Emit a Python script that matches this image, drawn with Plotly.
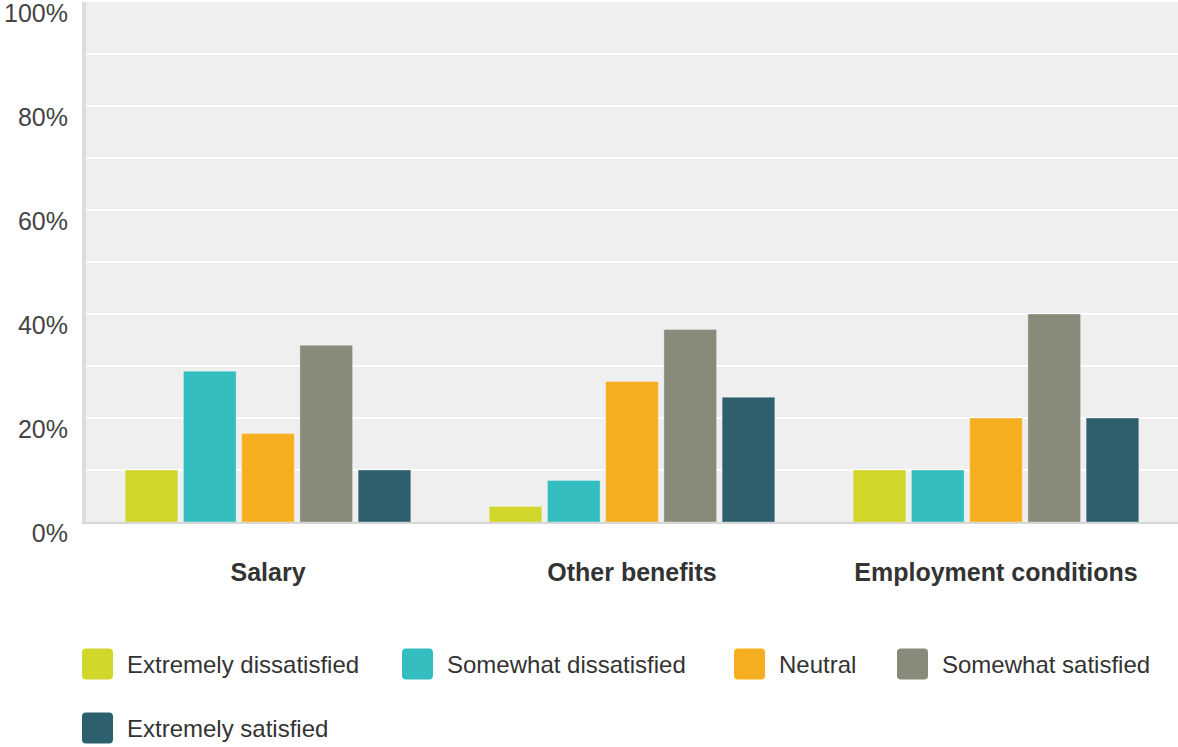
import plotly.graph_objects as go

categories = ["Salary", "Other benefits", "Employment conditions"]
series_names = ["Extremely dissatisfied", "Somewhat dissatisfied", "Neutral",
                "Somewhat satisfied", "Extremely satisfied"]
extremely_dissatisfied = [10, 3, 10]
somewhat_dissatisfied = [29, 8, 10]
neutral = [17, 27, 20]
somewhat_satisfied = [34, 37, 40]
extremely_satisfied = [10, 24, 20]
values = [extremely_dissatisfied, somewhat_dissatisfied, neutral,
          somewhat_satisfied, extremely_satisfied]
colors = ["#d0d62a", "#33bdbf", "#f5ae1f", "#888a7a", "#2e5f6c"]
y_ticks = [0, 20, 40, 60, 80, 100]
y_ticktext = [f"{v}%" for v in y_ticks]

W, H = 1178, 747
ML, MR, MT, MB = 86, 0, 2, 225
PW = W - ML - MR
PH = H - MT - MB

fig = go.Figure()
for name, vals, col in zip(series_names, values, colors):
    fig.add_trace(go.Bar(
        x=categories, y=vals, name=name,
        marker=dict(color=col, line=dict(color="rgba(255,255,255,0.35)", width=1)),
        showlegend=False, hoverinfo="x+y+name",
    ))

# manual legend (large rounded swatches)
def px_to_paper(px, py):
    return (px - ML) / PW, (H - MB - py) / PH

legend_pos = [(82, 664), (402, 664), (734, 664), (897, 664), (82, 728)]
shapes = []
annotations = []
sw = 31
r = 4
for (sx, sy), name, col in zip(legend_pos, series_names, colors):
    x0, y0 = sx, sy - sw / 2
    x1, y1 = sx + sw, sy + sw / 2
    def P(px, py):
        a, b = px_to_paper(px, py)
        return f"{a:.5f},{b:.5f}"
    path = (f"M{P(x0 + r, y0)} L{P(x1 - r, y0)} Q{P(x1, y0)} {P(x1, y0 + r)} "
            f"L{P(x1, y1 - r)} Q{P(x1, y1)} {P(x1 - r, y1)} "
            f"L{P(x0 + r, y1)} Q{P(x0, y1)} {P(x0, y1 - r)} "
            f"L{P(x0, y0 + r)} Q{P(x0, y0)} {P(x0 + r, y0)} Z")
    shapes.append(dict(type="path", xref="paper", yref="paper", path=path,
                       fillcolor=col, line=dict(width=0)))
    tx, ty = px_to_paper(sx + sw + 12, sy)
    annotations.append(dict(xref="paper", yref="paper", x=tx, y=ty,
                            xanchor="left", yanchor="middle", showarrow=False,
                            text=name,
                            font=dict(family="Liberation Sans, Arial", size=24, color="#333333")))

fig.update_layout(
    width=W, height=H,
    margin=dict(l=ML, r=MR, t=MT, b=MB, pad=0),
    paper_bgcolor="white",
    plot_bgcolor="#efefef",
    barmode="group",
    bargap=0.2,
    bargroupgap=0.095,
    font=dict(family="Liberation Sans, Arial", color="#444444"),
    shapes=shapes,
    annotations=annotations,
    xaxis=dict(
        showgrid=False, showline=True, linecolor="#d6d6d6", linewidth=2,
        tickfont=dict(family="Liberation Sans, Arial", size=25, color="#333333", weight="bold"),
        ticks="", ticklabelstandoff=27, fixedrange=True,
    ),
    yaxis=dict(
        range=[0, 100], tickvals=y_ticks, ticktext=y_ticktext,
        showgrid=True, gridcolor="white", gridwidth=2,
        minor=dict(dtick=10, showgrid=True, gridcolor="white", gridwidth=2),
        showline=True, linecolor="#dddddd", linewidth=4,
        zeroline=False, ticks="",
        tickfont=dict(family="Liberation Sans, Arial", size=25, color="#444444"),
        ticklabelstandoff=9, ticklabelshift=11, ticklabeloverflow="allow",
        fixedrange=True,
    ),
)

fig.write_html("out.html")
